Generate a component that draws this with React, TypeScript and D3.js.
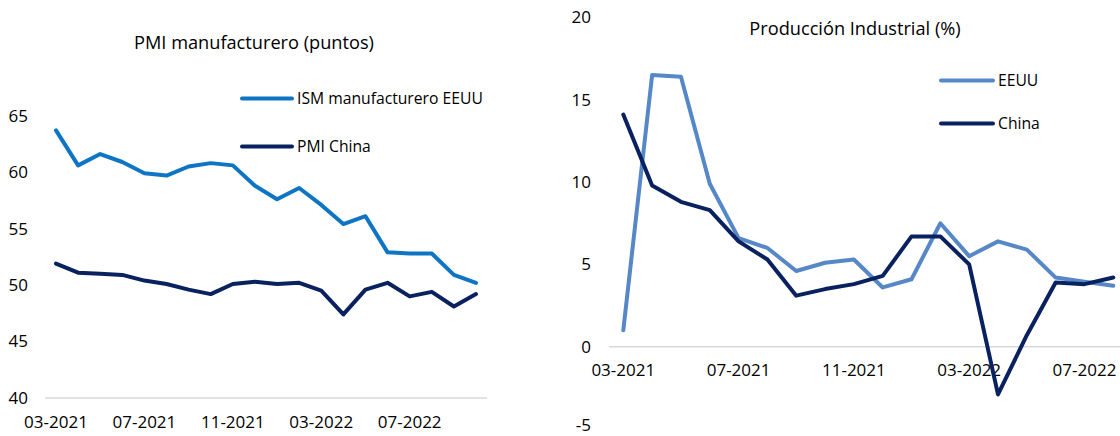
import React from "react";
import * as d3 from "d3";

// ---- Data ----
const pmiMonths = ["03-2021","04-2021","05-2021","06-2021","07-2021","08-2021","09-2021","10-2021","11-2021","12-2021","01-2022","02-2022","03-2022","04-2022","05-2022","06-2022","07-2022","08-2022","09-2022","10-2022"];
const ismUS = [63.7, 60.6, 61.6, 60.9, 59.9, 59.7, 60.5, 60.8, 60.6, 58.8, 57.6, 58.6, 57.1, 55.4, 56.1, 52.9, 52.8, 52.8, 50.9, 50.2];
const pmiChina = [51.9, 51.1, 51.0, 50.9, 50.4, 50.1, 49.6, 49.2, 50.1, 50.3, 50.1, 50.2, 49.5, 47.4, 49.6, 50.2, 49.0, 49.4, 48.1, 49.2];
const pmiTicks = [40, 45, 50, 55, 60, 65];

const ipMonths = ["03-2021","04-2021","05-2021","06-2021","07-2021","08-2021","09-2021","10-2021","11-2021","12-2021","01-2022","02-2022","03-2022","04-2022","05-2022","06-2022","07-2022","08-2022"];
const ipUS = [1.0, 16.5, 16.4, 9.9, 6.6, 6.0, 4.6, 5.1, 5.3, 3.6, 4.1, 7.5, 5.5, 6.4, 5.9, 4.2, 3.95, 3.7];
const ipChina = [14.1, 9.8, 8.8, 8.3, 6.4, 5.3, 3.1, 3.5, 3.8, 4.3, 6.7, 6.7, 5.0, -2.9, 0.7, 3.9, 3.8, 4.2];
const ipTicks = [-5, 0, 5, 10, 15, 20];

const FONT = "'Open Sans', 'Noto Sans', sans-serif";
const TXT = "#000000";
const GRID = "#D9D9D9";

export default function App() {
  // Left chart scales
  const xL = d3.scaleLinear().domain([0, pmiMonths.length - 1]).range([56, 476]);
  const yL = d3.scaleLinear().domain([40, 65]).range([398, 115.7]);
  // Right chart scales
  const xR = d3.scaleLinear().domain([0, ipMonths.length - 1]).range([623.3, 1113.3]);
  const yR = d3.scaleLinear().domain([0, 20]).range([346.7, 17.5]);

  const lineL = (vals: number[]) =>
    d3.line<number>().x((_, i) => xL(i)).y((d) => yL(d))(vals) || "";
  const lineR = (vals: number[]) =>
    d3.line<number>().x((_, i) => xR(i)).y((d) => yR(d))(vals) || "";

  const blueL = "#0E75C4";
  const navy = "#0A2160";
  const blueR = "#5687C6";

  const TICK = 17;
  const TITLE = 18.2;
  const LEG = 15.7;

  return (
    <svg
      width={1120}
      height={436}
      style={{ position: "absolute", left: 0, top: 0, background: "#fff" }}
      fontFamily={FONT}
    >
      <rect x={0} y={0} width={1120} height={436} fill="#ffffff" />

      {/* ---------- Left chart ---------- */}
      <text x={254} y={49} textAnchor="middle" fontSize={TITLE} fill={TXT}>
        PMI manufacturero (puntos)
      </text>
      <line x1={45} x2={487} y1={yL(40)} y2={yL(40)} stroke={GRID} strokeWidth={1.5} />
      {pmiTicks.map((t) => (
        <text key={"yl" + t} x={28} y={yL(t)} dy="0.35em" textAnchor="end" fontSize={TICK} fill={TXT}>
          {t}
        </text>
      ))}
      {pmiMonths.map((m, i) =>
        i % 4 === 0 ? (
          <text key={"xl" + m} x={xL(i)} y={422} dy="0.35em" textAnchor="middle" fontSize={TICK} fill={TXT}>
            {m}
          </text>
        ) : null
      )}
      <path d={lineL(ismUS)} fill="none" stroke={blueL} strokeWidth={4} strokeLinejoin="round" strokeLinecap="round" />
      <path d={lineL(pmiChina)} fill="none" stroke={navy} strokeWidth={4} strokeLinejoin="round" strokeLinecap="round" />

      {/* Left legend */}
      <line x1={242} x2={292} y1={98.5} y2={98.5} stroke={blueL} strokeWidth={4} strokeLinecap="round" />
      <text x={297} y={98.5} dy="0.35em" fontSize={LEG} fill={TXT}>ISM manufacturero EEUU</text>
      <line x1={242} x2={292} y1={146.5} y2={146.5} stroke={navy} strokeWidth={4} strokeLinecap="round" />
      <text x={297} y={146.5} dy="0.35em" fontSize={LEG} fill={TXT}>PMI China</text>

      {/* ---------- Right chart ---------- */}
      <text x={855} y={35} textAnchor="middle" fontSize={TITLE} fill={TXT}>
        Producción Industrial (%)
      </text>
      <line x1={609} x2={1120} y1={yR(0)} y2={yR(0)} stroke={GRID} strokeWidth={1.5} />
      {ipTicks.map((t) => (
        <text key={"yr" + t} x={591} y={Math.min(yR(t), 425)} dy="0.35em" textAnchor="end" fontSize={TICK} fill={TXT}>
          {t}
        </text>
      ))}
      {ipMonths.map((m, i) =>
        i % 4 === 0 ? (
          <text key={"xr" + m} x={xR(i)} y={370} dy="0.35em" textAnchor="middle" fontSize={TICK} fill={TXT}>
            {m}
          </text>
        ) : null
      )}
      <path d={lineR(ipUS)} fill="none" stroke={blueR} strokeWidth={4} strokeLinejoin="round" strokeLinecap="round" />
      <path d={lineR(ipChina)} fill="none" stroke={navy} strokeWidth={4} strokeLinejoin="round" strokeLinecap="round" />

      {/* Right legend */}
      <line x1={941} x2={993} y1={80.5} y2={80.5} stroke={blueR} strokeWidth={4} strokeLinecap="round" />
      <text x={998} y={80.5} dy="0.35em" fontSize={LEG} fill={TXT}>EEUU</text>
      <line x1={941} x2={993} y1={123.5} y2={123.5} stroke={navy} strokeWidth={4} strokeLinecap="round" />
      <text x={998} y={123.5} dy="0.35em" fontSize={LEG} fill={TXT}>China</text>
    </svg>
  );
}
